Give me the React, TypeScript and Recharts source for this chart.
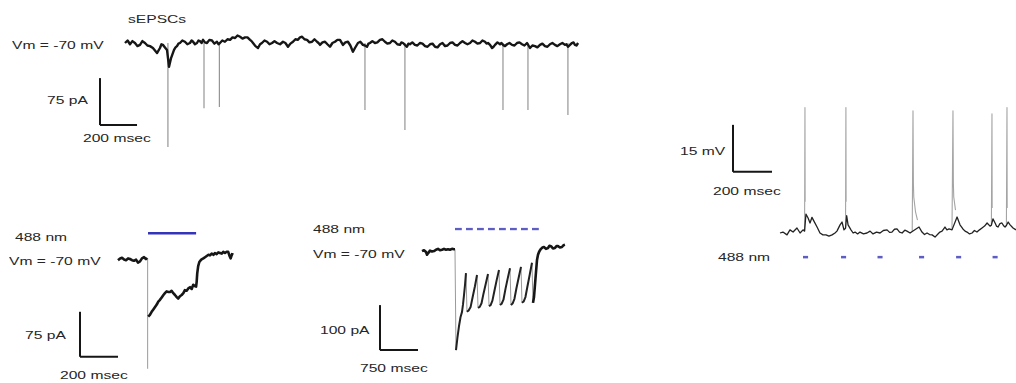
import { LineChart, Line, XAxis, YAxis, ReferenceLine } from "recharts";

// ---------- A: sEPSCs, Vm = -70 mV (time ms, current pA) ----------
const timeA = [
  0, 14, 27, 40, 54, 67, 81, 94, 108, 121, 135, 151, 162, 173, 189, 197, 205, 216, 227, 238,
  249, 265, 273, 281, 289, 297, 310, 324, 337, 351, 360, 368, 378, 389, 397, 405, 414, 422, 432, 443,
  456, 470, 483, 497, 505, 513, 526, 540, 554, 568, 581, 595, 608, 622, 635, 649, 662, 676, 684, 692,
  705, 719, 730, 740, 754, 768, 781, 795, 808, 822, 838, 854, 867, 881, 894, 908, 921, 935, 946, 957,
  970, 984, 997, 1011, 1024, 1038, 1046, 1054, 1067, 1081, 1094, 1108, 1121, 1135, 1148, 1162, 1170, 1178, 1191, 1205,
  1218, 1232, 1243, 1251, 1259, 1272, 1286, 1297, 1308, 1316, 1324, 1337, 1351, 1364, 1378, 1391, 1405, 1418, 1432, 1445,
  1459, 1472, 1486, 1494, 1503, 1513, 1524, 1532, 1540, 1553, 1567, 1580, 1594, 1608, 1622, 1635, 1649, 1662, 1676, 1689,
  1703, 1716, 1730, 1743, 1757, 1770, 1784, 1797, 1811, 1824, 1838, 1851, 1865, 1878, 1892, 1905, 1919, 1932, 1946, 1954,
  1962, 1973, 1984, 1992, 2000, 2013, 2027, 2035, 2043, 2054, 2065, 2078, 2092, 2105, 2119, 2132, 2146, 2159, 2173, 2189,
  2202, 2216, 2229, 2243, 2256, 2270, 2283, 2297, 2310, 2324, 2337, 2351, 2364, 2378, 2386, 2394, 2405, 2416, 2424, 2432,
  2440, 2449,
];
const currentA = [
  0, 4, -2, 3, 0, -5, -3, 3, 0, -4, -5, -8, -12, -16, -8, -2, -3, -7, -11, -38,
  -24, -11, -7, -5, -1, 0, 4, 2, -2, 0, 4, 2, -2, 0, 4, 3, 0, 5, 1, 0,
  5, 4, -1, 2, -2, 0, 4, 2, 6, 5, 9, 8, 12, 10, 7, 9, 9, 5, 3, 0,
  -5, -8, -2, 0, 4, 2, -2, 0, 3, 0, -2, 2, 0, -6, -1, 2, 6, 5, 9, 10,
  6, 5, 1, 2, 6, 2, 0, -3, 1, 2, -2, -6, 0, 2, 5, 5, 1, -3, 1, 2,
  -4, -14, -8, -4, 0, 2, -3, -4, -6, -1, 0, 3, 0, 1, 5, 6, 2, -1, 0, 4,
  2, -2, -3, 1, 0, -3, -6, -1, -2, 1, -3, -4, 0, -1, -5, -6, -2, -1, -6, -7,
  -2, 0, -5, -4, 0, 1, -3, -4, 0, 3, 0, -2, 0, 4, 2, -1, 0, 4, 2, -1,
  0, -3, -8, -6, -3, 1, -2, 0, -3, -5, -2, 0, -3, -4, 0, 1, -2, -4, 0, -8,
  -4, -5, -7, -3, -1, -5, -6, -2, 0, -3, -5, -2, 0, -3, -2, -6, -3, 0, 1, -3,
  -4, 0,
];
const eventTimesA = [232, 427, 510, 1297, 1513, 2043, 2178, 2394];
const eventPeaksA = [-166, -104, -102, -107, -139, -107, -107, -115];
const scaleA = { ms: 200, pA: 75 };

// ---------- B: 488 nm single pulse (time ms, current pA) ----------
const preTimeB = [0, 11, 21, 32, 42, 53, 63, 74, 84, 95, 105, 116, 126, 137, 147, 153];
const preCurrentB = [-2, 1, 2, -1, -2, 1, 0, -2, -3, -1, -6, -4, 1, 3, 0, 2];
const postTimeB = [
  159, 168, 177, 186, 195, 204, 212, 221, 230, 239, 247, 256, 265, 274, 282, 291, 300, 308, 317, 326,
  335, 344, 352, 361, 370, 379, 388, 396, 404, 411, 414, 417, 422, 428, 438, 449, 458, 467, 476, 484,
  493, 502, 510, 519, 528, 537, 546, 554, 563, 572, 580, 586, 593, 600, 607,
];
const postCurrentB = [
  -96, -93, -88, -84, -80, -76, -71, -68, -64, -60, -57, -54, -55, -55, -53, -57, -60, -63, -66, -62,
  -60, -57, -52, -53, -49, -47, -50, -43, -45, -46, -38, -24, -12, -5, -1, 1, 3, 5, 7, 6,
  9, 7, 10, 8, 11, 10, 9, 12, 10, 12, 12, 6, 1, 8, 7,
];
const peakB = { t: 156, pA: -183 };
const lightB = [158, 411];
const scaleB = { ms: 200, pA: 75 };

// ---------- C: 488 nm pulse train (time ms, current pA) ----------
const preTimeC = [0, 40, 79, 99, 118, 158, 197, 237, 276, 316, 355, 395, 434, 474, 513, 553, 592, 632, 651];
const preCurrentC = [2, 4, 0, -6, -3, 3, 1, 2, 5, 7, 4, 5, 7, 5, 6, 5, 7, 6, 6];
const toothTimesC = [
  [671, 700, 730, 760, 790, 810, 829, 850, 868],
  [888, 920, 960, 1000, 1045, 1086],
  [1106, 1140, 1175, 1215, 1260, 1303],
  [1323, 1355, 1390, 1430, 1475, 1520],
  [1540, 1572, 1608, 1648, 1693, 1737],
  [1757, 1790, 1825, 1865, 1910, 1954],
  [1974, 2006, 2042, 2082, 2127, 2171],
];
const toothCurrentsC = [
  [-218, -190, -165, -145, -133, -116, -96, -72, -47],
  [-133, -130, -122, -100, -76, -51],
  [-124, -122, -114, -92, -70, -49],
  [-120, -118, -108, -86, -62, -40],
  [-118, -115, -106, -82, -58, -36],
  [-118, -114, -104, -80, -56, -33],
  [-113, -110, -100, -76, -50, -24],
];
const postTimeC = [
  2191, 2211, 2230, 2250, 2270, 2290, 2310, 2330, 2349, 2378, 2408, 2447, 2487, 2516, 2546, 2585,
  2625, 2655, 2684, 2723, 2763, 2792, 2822,
];
const postCurrentC = [
  -113, -100, -73, -45, -18, -6, 0, 4, 7, 10, 11, 7, 9, 14, 13, 8, 9, 13, 13, 10, 11, 15, 16,
];
const pulsesC = [651, 868, 1086, 1303, 1520, 1737, 1954, 2171];
const pulseWidthC = 135;
const scaleC = { ms: 750, pA: 100 };

// ---------- D: current clamp, spikes (time ms, mV from rest) ----------
const timeD = [
  0, 15, 36, 51, 67, 87, 103, 118, 126, 133, 144, 154, 164, 174, 190, 205, 220, 236, 251, 267,
  282, 292, 308, 318, 328, 336, 342, 349, 364, 375, 385, 398, 410, 428, 446, 462, 477, 495, 513, 530,
  549, 562, 574, 587, 600, 613, 626, 640, 651, 667, 678, 713, 728, 741, 754, 767, 780,
  795, 810, 820, 831, 846, 856, 867, 882, 908, 923, 938, 949, 959, 972, 985, 997, 1010, 1023,
  1036, 1049, 1062, 1077, 1084, 1092, 1103, 1110, 1118, 1128, 1138, 1148, 1154, 1161, 1170, 1180, 1195, 1210,
];
const voltageD = [
  0, 0.3, -0.6, 1.0, 0.3, 1.6, 0, 1.0, 0.6, 6, 4.8, 3.2, 5, 3.8, 1.9, 0, -0.6, -0.6, -1, -0.6,
  0, 0.6, 2.6, 3.5, 1.0, 1.5, 5.5, 2.6, 1.0, 0, 0.3, -0.3, 0.3, -0.3, 0, 0.6, -0.3, 0.3, 0, 0.8,
  1.0, 0.2, 0.3, 1.2, 1.3, 0.3, 0, 0.9, 0.6, 0, 0.5, 1.9, 0.3, -0.5, 0, -0.5, -0.6,
  -1.3, -0.3, 0.3, 0.6, 1.9, 1.0, 1.3, 1.0, 5.1, 2.6, 1.3, 0.6, 0.3, -0.3, 0, 0.8, 0.3, 1,
  1.6, 2.2, 3.2, 2.2, 2.5, 4.5, 3.2, 2.2, 1.9, 3.0, 3.2, 2.2, 1.9, 2.4, 3.5, 2.6, 1.6, 1.0,
];
// each spike: upstroke, peak and repolarising tail
const spikeTimesD = [
  [126, 128, 129, 133],
  [336, 338, 339, 342],
  [678, 682, 684, 686, 695, 705, 713],
  [882, 887, 889, 891, 900, 908],
  [1084, 1087, 1088, 1092],
  [1161, 1164, 1165, 1170],
];
const spikeVoltagesD = [
  [0.6, 40, 10, 6],
  [1.5, 40, 10, 5.5],
  [0.5, 39, 16, 11.5, 6.7, 4.1, 1.9],
  [1.0, 39, 16, 11.5, 7.3, 5.1],
  [2.5, 38, 8, 4.5],
  [2.4, 40, 8, 3.5],
];
const pulsesD = [118, 313, 500, 713, 903, 1090];
const pulseWidthD = 26;
const scaleD = { ms: 200, mV: 15 };

const VM_LABEL = "Vm = -70 mV";
const STIM_LABEL = "488 nm";

// ---------- layout: chart boxes and their pixel calibration ----------
type Box = { left: number; top: number; w: number; h: number; x0: number; xs: number; y0: number; ys: number };
const boxA: Box = { left: 60, top: 0, w: 540, h: 160, x0: 125, xs: 5.405, y0: 43, ys: 1.596 };
const boxB: Box = { left: 60, top: 215, w: 190, h: 168, x0: 118, xs: 5.263, y0: 259, ys: 1.667 };
const boxC: Box = { left: 360, top: 215, w: 220, h: 160, x0: 422, xs: 19.74, y0: 252, ys: 2.222 };
const boxD: Box = { left: 700, top: 90, w: 316, h: 185, x0: 780, xs: 5.128, y0: 233, ys: 0.319 };

// scale bar corners and stim-bar levels (chart units)
const barA = { t: -135, v: -131 };
const barB = { t: -200, v: -163 };
const barC = { t: -829, v: -218 };
const barD = { t: -241, v: 19.5 };
const stimLevelB = 43;
const stimLevelC = 51;
const stimLevelD = -7.7;

const INK = "#161616";
const FAINT = "#8c8c8c";
const BLUE = "#3434b8";
const BLUE_LIGHT = "#5d5dc4";

const domainOf = (b: Box) => ({
  x: [(b.left - b.x0) * b.xs, (b.left + b.w - b.x0) * b.xs],
  y: [-(b.top + b.h - b.y0) * b.ys, (b.y0 - b.top) * b.ys],
});

const zip = (ts: number[], vs: number[], key: string) => ts.map((t, i) => ({ t, [key]: vs[i] }));

// several runs in one series, broken apart by null rows
const runs = (tss: number[][], vss: number[][], key: string) =>
  tss.flatMap((ts, k) => [...zip(ts, vss[k], key), { t: ts[ts.length - 1], [key]: null }]);

const seg = (key: string, x1: number, y1: number, x2: number, y2: number, stroke: string, w: number) => (
  <ReferenceLine
    key={key}
    segment={[{ x: x1, y: y1 }, { x: x2, y: y2 }]}
    stroke={stroke}
    strokeWidth={w}
    ifOverflow="visible"
  />
);

const scaleBar = (id: string, c: { t: number; v: number }, dx: number, dy: number) => [
  seg(id + "-v", c.t, c.v, c.t, c.v + dy, INK, 2),
  seg(id + "-h", c.t, c.v, c.t + dx, c.v, INK, 2),
];

const Frame = ({ box, data, children }: { box: Box; data: any[]; children: any }) => {
  const d = domainOf(box);
  return (
    <div style={{ position: "absolute", left: box.left, top: box.top }}>
      <LineChart width={box.w} height={box.h} data={data} margin={{ top: 0, right: 0, bottom: 0, left: 0 }}>
        <XAxis dataKey="t" type="number" domain={d.x} allowDataOverflow hide />
        <YAxis type="number" domain={d.y} allowDataOverflow hide />
        {children}
      </LineChart>
    </div>
  );
};

const lineProps = {
  type: "linear" as const,
  dot: false,
  activeDot: false,
  isAnimationActive: false,
  strokeLinejoin: "round" as const,
};

const labels = [
  { text: "sEPSCs", x: 128, y: 19 },
  { text: VM_LABEL, x: 12, y: 45 },
  { text: `${scaleA.pA} pA`, x: 47, y: 100 },
  { text: `${scaleA.ms} msec`, x: 83, y: 138 },
  { text: STIM_LABEL, x: 15, y: 237 },
  { text: VM_LABEL, x: 9, y: 261 },
  { text: `${scaleB.pA} pA`, x: 25, y: 335 },
  { text: `${scaleB.ms} msec`, x: 60, y: 375 },
  { text: STIM_LABEL, x: 313, y: 229 },
  { text: VM_LABEL, x: 313, y: 254 },
  { text: `${scaleC.pA} pA`, x: 320, y: 330 },
  { text: `${scaleC.ms} msec`, x: 360, y: 368 },
  { text: `${scaleD.mV} mV`, x: 680, y: 151 },
  { text: `${scaleD.ms} msec`, x: 713, y: 191 },
  { text: STIM_LABEL, x: 718, y: 257 },
];

export default function App() {
  const rowsA = zip(timeA, currentA, "i");
  const rowsB = [...zip(preTimeB, preCurrentB, "i"), { t: 156, i: null }, ...zip(postTimeB, postCurrentB, "i")];

  const rowsC = [
    ...zip(preTimeC, preCurrentC, "base"),
    ...runs(toothTimesC, toothCurrentsC, "saw"),
    ...zip(postTimeC, postCurrentC, "base"),
  ];
  const segsC = [[preTimeC, preCurrentC], ...toothTimesC.map((ts, k) => [ts, toothCurrentsC[k]]), [postTimeC, postCurrentC]];
  const dropsC = segsC.slice(0, -1).map((s, k) => {
    const n = segsC[k + 1];
    return seg("drop" + k, s[0][s[0].length - 1], s[1][s[1].length - 1], n[0][0], n[1][0], "#9a9a9a", 1);
  });

  const rowsD = [...zip(timeD, voltageD, "v"), ...runs(spikeTimesD, spikeVoltagesD, "s")]
    .map((r, k) => ({ ...r, k }))
    .sort((a, b) => a.t - b.t || a.k - b.k);

  return (
    <div
      style={{
        position: "relative",
        width: 1016,
        height: 383,
        background: "#fff",
        overflow: "hidden",
        fontFamily: '"Liberation Sans", Arial, sans-serif',
      }}
    >
      <style>{`body{margin:0}`}</style>

      <Frame box={boxA} data={rowsA}>
        {eventTimesA.map((t, k) => seg("ev" + k, t, 0, t, eventPeaksA[k], FAINT, 1.1))}
        <Line dataKey="i" stroke={INK} strokeWidth={2.4} connectNulls={false} {...lineProps} />
        {scaleBar("sa", barA, scaleA.ms, scaleA.pA)}
      </Frame>

      <Frame box={boxB} data={rowsB}>
        {seg("peakB", peakB.t, 2, peakB.t, peakB.pA, "#9a9a9a", 1)}
        <Line dataKey="i" stroke={INK} strokeWidth={2.6} connectNulls={false} {...lineProps} />
        {seg("lightB", lightB[0], stimLevelB, lightB[1], stimLevelB, BLUE, 2.5)}
        {scaleBar("sb", barB, scaleB.ms, scaleB.pA)}
      </Frame>

      <Frame box={boxC} data={rowsC}>
        {dropsC}
        <Line dataKey="base" stroke={INK} strokeWidth={2.6} connectNulls={false} {...lineProps} />
        <Line dataKey="saw" stroke="#222" strokeWidth={2} connectNulls={false} {...lineProps} />
        {pulsesC.map((t, k) => seg("pc" + k, t, stimLevelC, t + pulseWidthC, stimLevelC, BLUE_LIGHT, 2.3))}
        {scaleBar("sc", barC, scaleC.ms, scaleC.pA)}
      </Frame>

      <Frame box={boxD} data={rowsD}>
        <Line dataKey="s" stroke="#a4a4a4" strokeWidth={1.1} connectNulls={false} {...lineProps} />
        <Line dataKey="v" stroke="#222" strokeWidth={1.3} connectNulls {...lineProps} />
        {pulsesD.map((t, k) => seg("pd" + k, t, stimLevelD, t + pulseWidthD, stimLevelD, BLUE_LIGHT, 2.5))}
        {scaleBar("sd", barD, scaleD.ms, scaleD.mV)}
      </Frame>

      {labels.map((l, k) => (
        <div
          key={k}
          style={{
            position: "absolute",
            left: l.x,
            top: l.y - 6,
            fontSize: 11,
            lineHeight: "12px",
            color: "#262626",
            whiteSpace: "nowrap",
            transform: "scaleX(1.42)",
            transformOrigin: "left center",
          }}
        >
          {l.text}
        </div>
      ))}
    </div>
  );
}
